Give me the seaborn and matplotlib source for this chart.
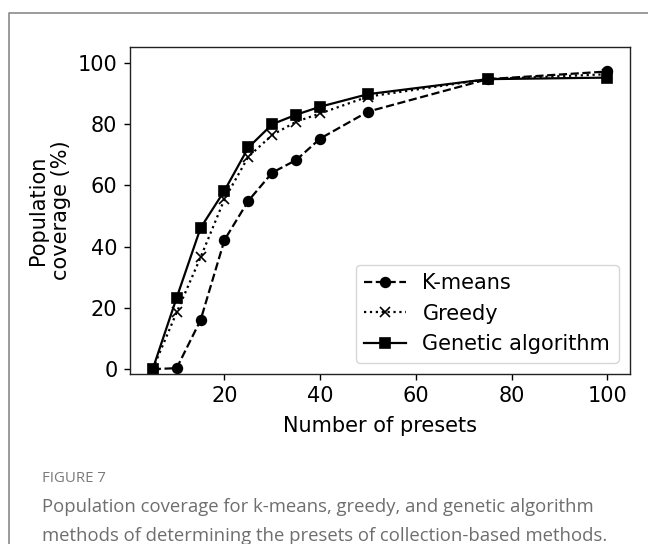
import matplotlib
matplotlib.use("Agg")
import matplotlib.pyplot as plt
from matplotlib.lines import Line2D
import seaborn as sns
import pandas as pd

presets = [5, 10, 15, 20, 25, 30, 35, 40, 50, 75, 100]
kmeans = [0.0, 0.3, 16.0, 42.2, 55.0, 64.2, 68.3, 75.3, 84.1, 94.7, 97.2]
greedy = [0.0, 18.5, 36.5, 55.5, 69.4, 76.5, 80.8, 83.5, 89.0, 94.7, 96.3]
genetic = [0.0, 23.3, 46.1, 58.3, 72.4, 80.0, 83.1, 85.7, 89.8, 94.7, 95.2]

series_names = ["K-means", "Greedy", "Genetic algorithm"]
x_label = "Number of presets"
y_label = "Population\ncoverage (%)"
fig_label = "FIGURE 7"
caption_lines = [
    "Population coverage for k-means, greedy, and genetic algorithm",
    "methods of determining the presets of collection-based methods.",
]

W, H = 648, 544
fig = plt.figure(figsize=(W / 100, H / 100), dpi=100)
fig.patch.set_facecolor("white")

ax = fig.add_axes([130 / W, 1 - 374 / H, 500 / W, 327 / H])

styles = [("--", "o", 7), (":", "x", 6.5), ("-", "s", 7)]
for name, vals, (ls, mk, ms) in zip(series_names, [kmeans, greedy, genetic], styles):
    df = pd.DataFrame({"x": presets, "y": vals})
    sns.lineplot(data=df, x="x", y="y", ax=ax, color="black", linestyle=ls,
                 marker=mk, markersize=ms, markeredgecolor="black",
                 markerfacecolor="black", markeredgewidth=1.2,
                 linewidth=1.6, label=name)

ax.set_xlim(0.25, 104.75)
ax.set_ylim(-1.6, 105.2)
ax.set_xticks([20, 40, 60, 80, 100])
ax.set_yticks([0, 20, 40, 60, 80, 100])
ax.tick_params(labelsize=15, length=4, width=1, colors="black", pad=5)
ax.set_xlabel(x_label, fontsize=15, labelpad=7)
ax.set_ylabel(y_label, fontsize=15, labelpad=5)
for sp in ax.spines.values():
    sp.set_color("#222222")
    sp.set_linewidth(1.0)
ax.grid(False)
ax.legend(loc="lower right", fontsize=15, frameon=True, borderaxespad=0.55)

# outer panel border (left and top edges)
fig.add_artist(Line2D([9 / W, 9 / W, 1.0], [0.0, 1 - 13 / H, 1 - 13 / H],
                      transform=fig.transFigure, color="#8a8a8a", linewidth=1.2))

cap_font = ["Open Sans", "DejaVu Sans"]
fig.text(42 / W, 1 - 478 / H, fig_label, fontsize=10.8, color="#7a7a7a",
         family=cap_font, va="center", ha="left")
fig.text(42 / W, 1 - 507 / H, caption_lines[0], fontsize=13.35, color="#6e6e6e",
         family=cap_font, va="center", ha="left")
fig.text(42 / W, 1 - 536 / H, caption_lines[1], fontsize=13.35, color="#6e6e6e",
         family=cap_font, va="center", ha="left")

fig.savefig("out.png", dpi=100, facecolor="white")
